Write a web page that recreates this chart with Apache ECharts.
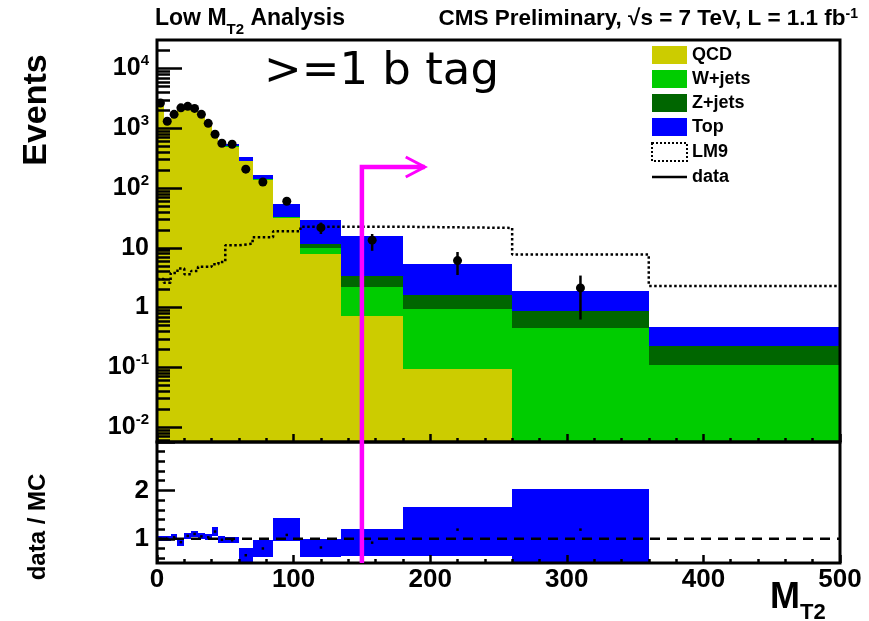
<!DOCTYPE html>
<html>
<head>
<meta charset="utf-8">
<script src="https://cdn.jsdelivr.net/npm/echarts@6/dist/echarts.min.js"></script>
<style>
  html, body { margin: 0; background: #fff; }
  #chart { width: 869px; height: 621px; }
</style>
</head>
<body>
<div id="chart"></div>
<script>
// MT2 bin edges (GeV)
const binEdges = [0, 5, 10, 15, 20, 25, 30, 35, 40, 45, 50, 60, 70, 85, 105, 135, 180, 260, 360, 500];
// stacked MC, events per bin
const qcdEvents = [2633, 1305, 1644, 2223, 2173, 1928, 1583, 1163, 749, 529, 490, 283, 138, 31, 7.8, 0.735, 0.095, 0, 0];
const wjetsEvents = [5, 3, 4, 5, 5, 5, 5, 5, 4, 4, 6, 3, 2, 1.5, 2.3, 1.5, 0.855, 0.45, 0.108];
const zjetsEvents = [2, 2, 2, 2, 2, 2, 2, 2, 2, 2, 4, 2, 1, 0.5, 1.4, 1.16, 0.7, 0.44, 0.118];
const topEvents = [60, 40, 50, 70, 70, 65, 60, 60, 45, 35, 40, 42, 24, 22, 17.5, 12.4, 3.65, 0.98, 0.244];
// LM9 signal (dotted)
const lm9Events = [3.0, 2.6, 3.8, 4.5, 3.6, 4.1, 4.8, 4.8, 5.3, 5.8, 11, 11.7, 15, 19, 22.5, 22.5, 21.5, 7.7, 2.3];
// data
const dataEvents = [2650, 1310, 1710, 2200, 2330, 2150, 1710, 1210, 794, 562, 541, 207, 126, 60, 21.7, 13.4, 6.1, 2.13, null];
const dataErrUp = [52, 36, 41, 47, 48, 46, 41, 35, 28, 24, 23, 14, 11, 7.7, 4.7, 3.6, 2.4, 1.3, null];
const dataErrDown = [52, 36, 41, 47, 48, 46, 41, 35, 28, 24, 23, 14, 11, 7.7, 4.7, 4.5, 2.6, 1.5, null];
// data / MC
const ratioVal = [1.0, 1.0, 1.03, 0.93, 1.06, 1.1, 1.05, 1.03, 1.15, 0.98, 0.97, 0.66, 0.8, 1.08, 0.82, 0.92, 1.19, 1.19, null];
const ratioLo = [0.95, 0.95, 0.97, 0.86, 1.0, 1.03, 0.99, 0.97, 1.05, 0.92, 0.91, 0.52, 0.63, 0.96, 0.62, 0.65, 0.65, 0.45, null];
const ratioHi = [1.06, 1.06, 1.1, 1.0, 1.12, 1.17, 1.12, 1.1, 1.25, 1.05, 1.04, 0.82, 0.97, 1.42, 0.99, 1.2, 1.65, 2.02, null];
// cut marker
const cutValue = 150;
const arrowEnd = 196;
const arrowLevel = 225;

const Y_MIN = Math.pow(10, -2.25);
const Y_MAX = 3e4;
const majorTicks = [0.01, 0.1, 1, 10, 100, 1000, 10000];
const minorTicks = [];
for (let e = -3; e <= 4; e++) {
  for (let m = 2; m <= 9; m++) {
    const v = m * Math.pow(10, e);
    if (v > Y_MIN && v < Y_MAX) minorTicks.push(v);
  }
}
const ratioMinor = [0.6, 0.8, 1.2, 1.4, 1.6, 1.8, 2.2, 2.4, 2.6, 2.8];

const FONT = 'Liberation Sans';
const colors = { qcd: '#cccc00', w: '#00cc00', z: '#006600', top: '#0000ff' };

const cumQcd = qcdEvents.slice();
const cumW = cumQcd.map((v, i) => v + wjetsEvents[i]);
const cumZ = cumW.map((v, i) => v + zjetsEvents[i]);
const cumTop = cumZ.map((v, i) => v + topEvents[i]);

function bandRows(lower, upper) {
  return upper.map((u, i) => [
    binEdges[i], binEdges[i + 1],
    Math.max(lower ? lower[i] : Y_MIN, Y_MIN), Math.max(u, Y_MIN)
  ]);
}
const centers = binEdges.slice(0, -1).map((e, i) => (e + binEdges[i + 1]) / 2);

// snapped rectangles so neighbouring bins join without seams
function renderRect(params, api) {
  const lo = api.value(2), hi = api.value(3);
  if (!(hi > lo)) return null;
  const p0 = api.coord([api.value(0), hi]);
  const p1 = api.coord([api.value(1), lo]);
  const x0 = Math.round(p0[0]), x1 = Math.round(p1[0]);
  const y0 = Math.round(p0[1]), y1 = Math.round(p1[1]);
  return {
    type: 'rect',
    shape: { x: x0, y: y0, width: x1 - x0, height: y1 - y0 },
    style: { fill: api.visual('color') }
  };
}

function histSeries(name, color, rows) {
  return {
    name: name, type: 'custom', xAxisIndex: 0, yAxisIndex: 0,
    renderItem: renderRect, itemStyle: { color: color },
    encode: { x: [0, 1], y: [2, 3] }, clip: true, data: rows, z: 2
  };
}

const lm9Line = lm9Events.map((v, i) => [binEdges[i], v]);
lm9Line.push([binEdges[binEdges.length - 1], lm9Events[lm9Events.length - 1]]);

const dataPoints = [], dataErrRows = [], ratioRows = [], ratioPoints = [];
dataEvents.forEach((v, i) => {
  if (v == null) return;
  dataPoints.push([centers[i], v]);
  dataErrRows.push([centers[i], v - dataErrDown[i], v + dataErrUp[i]]);
});
ratioVal.forEach((v, i) => {
  if (v == null) return;
  ratioRows.push([binEdges[i], binEdges[i + 1], ratioLo[i], ratioHi[i]]);
  ratioPoints.push([centers[i], v]);
});

const tickStyle = { color: '#000', width: 2.5 };

const chart = echarts.init(document.getElementById('chart'), null, { renderer: 'canvas' });
const option = {
  animation: false,
  grid: [
    { left: 157, right: 29, top: 40, height: 402, show: true, borderColor: '#000', borderWidth: 3, backgroundColor: 'transparent', z: 6 },
    { left: 157, right: 29, top: 442, height: 121, show: true, borderColor: '#000', borderWidth: 3, backgroundColor: 'transparent', z: 6 }
  ],
  legend: {
    orient: 'vertical', left: 651, top: 46, itemWidth: 35, itemHeight: 18, itemGap: 6, padding: 0,
    selectedMode: false,
    textStyle: { fontSize: 18, fontWeight: 'bold', color: '#000', fontFamily: FONT },
    data: [
      { name: 'QCD', icon: 'rect' },
      { name: 'W+jets', icon: 'rect' },
      { name: 'Z+jets', icon: 'rect' },
      { name: 'Top', icon: 'rect' },
      { name: 'LM9', icon: 'rect', itemStyle: { color: '#fff', borderColor: '#000', borderWidth: 2, borderType: 'dotted' } },
      { name: 'data', icon: 'path://M0,0H40V3H0Z', itemStyle: { color: '#000' } }
    ]
  },
  xAxis: [
    {
      gridIndex: 0, type: 'value', min: 0, max: 500, interval: 100, z: 5,
      axisLine: { show: false }, splitLine: { show: false }, axisLabel: { show: false },
      axisTick: { inside: true, length: 8, lineStyle: tickStyle },
      minorTick: { show: true, splitNumber: 5, length: 4, lineStyle: tickStyle }
    },
    {
      gridIndex: 1, type: 'value', min: 0, max: 500, interval: 100, z: 5,
      axisLine: { show: false }, splitLine: { show: false },
      axisLabel: { fontSize: 26, fontWeight: 'bold', color: '#000', fontFamily: FONT, margin: 4 },
      axisTick: { inside: true, length: 8, lineStyle: tickStyle },
      minorTick: { show: true, splitNumber: 5, length: 4, lineStyle: tickStyle }
    }
  ],
  yAxis: [
    {
      gridIndex: 0, type: 'log', position: 'left', min: Y_MIN, max: Y_MAX, z: 5,
      axisLine: { show: false }, splitLine: { show: false },
      axisTick: { inside: true, length: 25, lineStyle: tickStyle, customValues: majorTicks },
      axisLabel: {
        customValues: majorTicks, margin: 8,
        formatter: function (v) {
          const e = Math.round(Math.log10(v));
          if (e === 0) return '{n|1}';
          if (e === 1) return '{n|10}';
          return '{n|10}{s|' + e + '}';
        },
        rich: {
          n: { fontSize: 25, fontWeight: 'bold', color: '#000', fontFamily: FONT, lineHeight: 30 },
          s: { fontSize: 15, fontWeight: 'bold', color: '#000', fontFamily: FONT, lineHeight: 16, verticalAlign: 'top' }
        }
      }
    },
    {
      gridIndex: 0, type: 'log', position: 'left', min: Y_MIN, max: Y_MAX, z: 5,
      axisLine: { show: false }, splitLine: { show: false }, axisLabel: { show: false },
      axisTick: { inside: true, length: 13, lineStyle: tickStyle, customValues: minorTicks }
    },
    {
      gridIndex: 1, type: 'value', position: 'left', min: 0.5, max: 3, z: 5,
      axisLine: { show: false }, splitLine: { show: false },
      axisTick: { inside: true, length: 18, lineStyle: tickStyle, customValues: [1, 2, 3] },
      axisLabel: { customValues: [1, 2], fontSize: 26, fontWeight: 'bold', color: '#000', fontFamily: FONT, margin: 8 }
    },
    {
      gridIndex: 1, type: 'value', position: 'left', min: 0.5, max: 3, z: 5,
      axisLine: { show: false }, splitLine: { show: false }, axisLabel: { show: false },
      axisTick: { inside: true, length: 8, lineStyle: tickStyle, customValues: ratioMinor }
    }
  ],
  graphic: [
    {
      type: 'text', left: 155, top: 7,
      style: {
        text: '{a|Low M}{s|T2}{a| Analysis}',
        rich: {
          a: { fontSize: 23, fontWeight: 'bold', fontFamily: FONT, fill: '#000', lineHeight: 30, verticalAlign: 'top' },
          s: { fontSize: 15, fontWeight: 'bold', fontFamily: FONT, fill: '#000', lineHeight: 14, verticalAlign: 'bottom' }
        }
      }
    },
    {
      type: 'text', right: 11, top: 7,
      style: {
        text: '{a|CMS Preliminary, \u221As = 7 TeV, L = 1.1 fb}{p|-1}',
        rich: {
          a: { fontSize: 22.5, fontWeight: 'bold', fontFamily: FONT, fill: '#000', lineHeight: 30, verticalAlign: 'top' },
          p: { fontSize: 14, fontWeight: 'bold', fontFamily: FONT, fill: '#000', lineHeight: 18, verticalAlign: 'top' }
        }
      }
    },
    {
      type: 'text', left: 264, top: 50,
      style: { text: '>=1 b tag', fontSize: 45, fontFamily: 'DejaVu Sans', fill: '#000' }
    },
    {
      type: 'text', x: 37, y: 110, rotation: Math.PI / 2,
      style: { text: 'Events', fontSize: 34, fontWeight: 'bold', fontFamily: FONT, fill: '#000', align: 'center', verticalAlign: 'middle' }
    },
    {
      type: 'text', x: 38, y: 527, rotation: Math.PI / 2,
      style: { text: 'data / MC', fontSize: 24, fontWeight: 'bold', fontFamily: FONT, fill: '#000', align: 'center', verticalAlign: 'middle' }
    },
    {
      type: 'text', left: 770, top: 580,
      style: {
        text: '{m|M}{s|T2}',
        rich: {
          m: { fontSize: 36, fontWeight: 'bold', fontFamily: FONT, fill: '#000', lineHeight: 44, verticalAlign: 'top' },
          s: { fontSize: 22, fontWeight: 'bold', fontFamily: FONT, fill: '#000', lineHeight: 22, verticalAlign: 'bottom' }
        }
      }
    }
  ],
  series: [
    histSeries('QCD', colors.qcd, bandRows(null, cumQcd)),
    histSeries('W+jets', colors.w, bandRows(cumQcd, cumW)),
    histSeries('Z+jets', colors.z, bandRows(cumW, cumZ)),
    histSeries('Top', colors.top, bandRows(cumZ, cumTop)),
    {
      name: 'LM9', type: 'line', xAxisIndex: 0, yAxisIndex: 0, step: 'end',
      showSymbol: false, symbol: 'none', data: lm9Line, z: 3,
      itemStyle: { color: '#000' },
      lineStyle: { color: '#000', width: 2.5, type: [2.5, 2.5] }
    },
    {
      name: 'data', type: 'scatter', xAxisIndex: 0, yAxisIndex: 0,
      symbol: 'circle', symbolSize: 9, itemStyle: { color: '#000', opacity: 1 }, data: dataPoints, z: 4
    },
    {
      type: 'custom', xAxisIndex: 0, yAxisIndex: 0, z: 4,
      encode: { x: 0, y: [1, 2] }, data: dataErrRows,
      renderItem: function (params, api) {
        const a = api.coord([api.value(0), api.value(1)]);
        const b = api.coord([api.value(0), api.value(2)]);
        return { type: 'line', shape: { x1: a[0], y1: a[1], x2: b[0], y2: b[1] }, style: { stroke: '#000', lineWidth: 2.5 } };
      }
    },
    {
      type: 'custom', xAxisIndex: 1, yAxisIndex: 2, z: 2, clip: true,
      itemStyle: { color: colors.top },
      encode: { x: [0, 1], y: [2, 3] }, data: ratioRows, renderItem: renderRect
    },
    {
      type: 'line', xAxisIndex: 1, yAxisIndex: 2, z: 3, symbol: 'none',
      data: [[0, 1], [500, 1]],
      lineStyle: { color: '#000', width: 2.5, type: [10, 7] }
    },
    {
      type: 'scatter', xAxisIndex: 1, yAxisIndex: 2, z: 4,
      symbol: 'rect', symbolSize: 2.5, itemStyle: { color: '#000', opacity: 1 }, data: ratioPoints
    },
    {
      type: 'custom', xAxisIndex: 0, yAxisIndex: 0, z: 10, clip: false,
      encode: { x: [0, 1], y: 2 }, data: [[cutValue, arrowEnd, arrowLevel]],
      renderItem: function (params, api) {
        const b = api.coord([api.value(0), Y_MIN]);
        const t = api.coord([api.value(0), api.value(2)]);
        const e = api.coord([api.value(1), api.value(2)]);
        return {
          type: 'group', children: [
            { type: 'polyline', shape: { points: [b, t, e] }, style: { stroke: '#ff00ff', lineWidth: 4.5, fill: null } },
            { type: 'polyline', shape: { points: [[e[0] - 19, e[1] - 10], e, [e[0] - 19, e[1] + 10]] }, style: { stroke: '#ff00ff', lineWidth: 3, fill: null } }
          ]
        };
      }
    },
    {
      type: 'custom', xAxisIndex: 1, yAxisIndex: 2, z: 10, clip: false,
      encode: { x: 0 }, data: [[cutValue]],
      renderItem: function (params, api) {
        const a = api.coord([api.value(0), 0.5]);
        const b = api.coord([api.value(0), 3]);
        return { type: 'line', shape: { x1: a[0], y1: a[1], x2: b[0], y2: b[1] }, style: { stroke: '#ff00ff', lineWidth: 4.5 } };
      }
    }
  ]
};
chart.setOption(option);
</script>
</body>
</html>
